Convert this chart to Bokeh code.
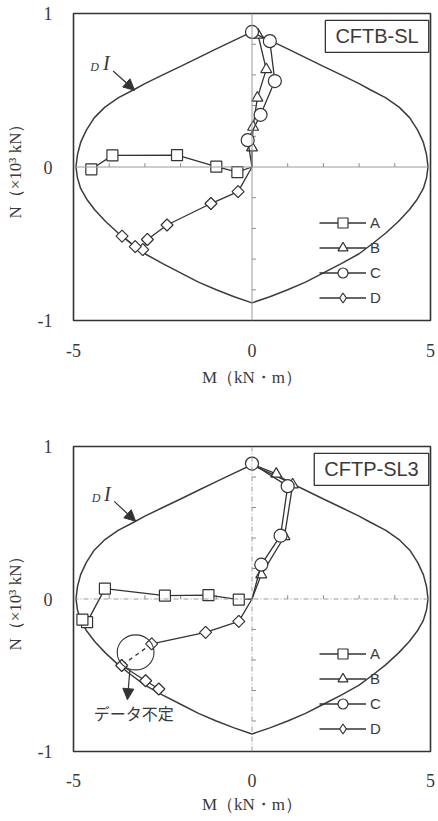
from bokeh.plotting import figure
from bokeh.layouts import column
from bokeh.models import Range1d, FixedTicker, Span, Label, Arrow, NormalHead
from bokeh.core.properties import value
from bokeh.embed import file_html
from bokeh.resources import INLINE

# ---------------- data ----------------
# interaction curve DI, left half from top (M=0, N max) down to bottom (M=0, N min)
CURVE_M_LEFT = [0.0, -0.5, -1.0, -1.5, -2.0, -2.5, -3.0, -3.3, -3.75, -4.12, -4.42, -4.64,
                -4.8, -4.89, -4.93, -4.89, -4.8, -4.63, -4.4, -4.1, -3.75, -3.4, -3.0,
                -2.5, -2.0, -1.5, -1.0, -0.5, 0.0]
CURVE_N_LEFT = [0.88, 0.825, 0.77, 0.713, 0.656, 0.6, 0.543, 0.505, 0.45, 0.39, 0.32, 0.24,
                0.16, 0.08, 0.0, -0.07, -0.14, -0.21, -0.28, -0.355, -0.43, -0.495, -0.565,
                -0.63, -0.69, -0.75, -0.8, -0.845, -0.885]

X_TICKS = [-5, 0, 5]
X_TICK_LABELS = ["-5", "0", "5"]
Y_TICKS = [-1, 0, 1]
Y_TICK_LABELS = ["-1", "0", "1"]
ZERO_X_MINOR = [-4, -3, -2, -1, 1, 2, 3, 4]
ZERO_Y_MINOR = [-0.8, -0.6, -0.4, -0.2, 0.2, 0.4, 0.6, 0.8]

SERIES = ["A", "B", "C", "D"]
MARKERS = ["square", "triangle", "circle", "square"]

# panel 1 : CFTB-SL
P1_TITLE = "CFTB-SL"
P1_A_M = [0.0, -0.41, -1.0, -2.1, -3.91, -4.5]
P1_A_N = [0.0, -0.033, 0.002, 0.078, 0.076, -0.015]
P1_B_M = [0.0, 0.0, 0.03, 0.15, 0.4, 0.17]
P1_B_N = [0.0, 0.126, 0.26, 0.45, 0.636, 0.86]
P1_C_M = [0.0, -0.12, 0.24, 0.64, 0.5, 0.0]
P1_C_N = [0.0, 0.175, 0.34, 0.56, 0.82, 0.88]
P1_D_M = [0.0, -0.39, -1.15, -2.38, -2.93, -3.06, -3.27, -3.64]
P1_D_N = [0.0, -0.16, -0.238, -0.378, -0.472, -0.538, -0.519, -0.45]

# panel 2 : CFTP-SL3
P2_TITLE = "CFTP-SL3"
P2_A_M = [0.0, -0.37, -1.22, -2.44, -4.12, -4.62, -4.75]
P2_A_N = [0.0, -0.004, 0.026, 0.022, 0.068, -0.152, -0.135]
P2_B_M = [0.0, 0.26, 0.91, 1.14, 0.68, 0.0]
P2_B_N = [0.0, 0.16, 0.41, 0.75, 0.82, 0.885]
P2_C_M = [0.0, 0.26, 0.8, 1.0, 0.0]
P2_C_N = [0.0, 0.225, 0.415, 0.74, 0.888]
P2_D_M = [0.0, -0.37, -1.3, -2.81, -3.65, -2.98, -2.61]
P2_D_N = [0.0, -0.147, -0.219, -0.294, -0.436, -0.536, -0.59]
P2_D_GAP = 3  # segment from point 3 to 4 is uncertain (dashed)

INK = "#333333"
TEXT = "#3a3a3a"
WIDTH = 437


def curve_xy():
    xs = CURVE_M_LEFT + [-m for m in reversed(CURVE_M_LEFT)]
    ys = CURVE_N_LEFT + list(reversed(CURVE_N_LEFT))
    return xs, ys


def make_panel(height, b_top, b_bottom, title, data, zero_dash, lab_standoff, ax_standoff,
               legend_y, gap=None):
    p = figure(width=WIDTH, height=height, x_range=Range1d(-5, 5), y_range=Range1d(-1, 1),
               output_backend="svg", toolbar_location=None,
               min_border_left=73, min_border_right=WIDTH - 430,
               min_border_top=b_top, min_border_bottom=b_bottom)
    p.grid.visible = False
    p.outline_line_color = INK
    p.outline_line_width = 1.6
    p.background_fill_color = "white"
    p.border_fill_color = "white"

    p.xaxis.ticker = FixedTicker(ticks=X_TICKS)
    p.xaxis.major_label_overrides = dict(zip(X_TICKS, X_TICK_LABELS))
    p.yaxis.ticker = FixedTicker(ticks=Y_TICKS)
    p.yaxis.major_label_overrides = dict(zip(Y_TICKS, Y_TICK_LABELS))
    for ax in (p.xaxis[0], p.yaxis[0]):
        ax.axis_line_color = None
        ax.major_tick_line_color = None
        ax.minor_tick_line_color = None
        ax.major_tick_out = 0
        ax.major_tick_in = 0
        ax.major_label_text_font = "Liberation Serif"
        ax.major_label_text_font_size = "18px"
        ax.major_label_text_color = TEXT
        ax.axis_label_text_font = "Liberation Serif"
        ax.axis_label_text_font_size = "17px"
        ax.axis_label_text_font_style = "normal"
        ax.axis_label_text_color = TEXT
    p.xaxis.axis_label = "M（kN・m）"
    p.yaxis.axis_label = "N（×10³ kN）"
    p.xaxis.major_label_standoff = lab_standoff
    p.xaxis.axis_label_standoff = ax_standoff
    p.yaxis.major_label_standoff = 21
    p.yaxis.axis_label_standoff = 10

    # zero lines with small ticks
    p.add_layout(Span(location=0, dimension="width", line_color="#9a9a9a", line_width=1,
                      line_dash=zero_dash))
    p.add_layout(Span(location=0, dimension="height", line_color="#9a9a9a", line_width=1,
                      line_dash=zero_dash))
    p.segment(x0=ZERO_X_MINOR, y0=[0] * len(ZERO_X_MINOR), x1=ZERO_X_MINOR,
              y1=[0.025] * len(ZERO_X_MINOR), line_color="#8a8a8a", line_width=1)
    p.segment(x0=[0] * len(ZERO_Y_MINOR), y0=ZERO_Y_MINOR, x1=[0.11] * len(ZERO_Y_MINOR),
              y1=ZERO_Y_MINOR, line_color="#8a8a8a", line_width=1)

    # interaction curve
    cx, cy = curve_xy()
    p.line(cx, cy, line_color="#3c3c3c", line_width=1.5)

    # series
    for name, marker, (xs, ys) in zip(SERIES, MARKERS, data):
        is_d = name == "D"
        size = 8.5 if is_d else (13 if marker == "circle" else 11)
        if is_d and gap is not None:
            p.line(xs[:gap + 1], ys[:gap + 1], line_color=INK, line_width=1.3,
                   legend_label=name)
            p.line(xs[gap:gap + 2], ys[gap:gap + 2], line_color=INK, line_width=1.3,
                   line_dash="4 4")
            p.line(xs[gap + 1:], ys[gap + 1:], line_color=INK, line_width=1.3)
        else:
            p.line(xs, ys, line_color=INK, line_width=1.3, legend_label=name)
        if is_d:
            # diamond symbol (used for the legend), fully covered by the rotated squares
            p.scatter(xs[1:], ys[1:], marker="diamond", size=11.5, fill_color="white",
                      line_color=INK, line_width=1.2, legend_label=name)
            p.scatter(xs[1:], ys[1:], marker=marker, size=size, angle=0.785398,
                      fill_color="white", line_color=INK, line_width=1.2)
        else:
            p.scatter(xs[1:], ys[1:], marker=marker, size=size,
                      fill_color="white", line_color=INK, line_width=1.2,
                      legend_label=name)

    lg = p.legend[0]
    lg.location = (244, legend_y)
    lg.background_fill_alpha = 0
    lg.border_line_alpha = 0
    lg.padding = 2
    lg.margin = 0
    lg.spacing = 0
    lg.glyph_width = 47
    lg.glyph_height = 25
    lg.label_height = 25
    lg.label_standoff = 4
    lg.label_text_font = "Liberation Sans"
    lg.label_text_font_size = "15px"
    lg.label_text_color = TEXT

    # title box
    p.add_layout(Label(x=4.95, y=0.955, text=title, anchor="top_right",
                       text_font="Liberation Sans", text_font_size="20px",
                       text_color=TEXT, padding=(10, 5),
                       background_fill_color="white", border_line_color=INK,
                       border_line_width=1.3))
    return p


p1 = make_panel(392, 13, 72, P1_TITLE,
                [(P1_A_M, P1_A_N), (P1_B_M, P1_B_N), (P1_C_M, P1_C_N), (P1_D_M, P1_D_N)],
                "solid", 23, 8, 8)
p2 = make_panel(428, 54, 69, P2_TITLE,
                [(P2_A_M, P2_A_N), (P2_B_M, P2_B_N), (P2_C_M, P2_C_N), (P2_D_M, P2_D_N)],
                "5 2 1 2", 22, 5, 8, gap=P2_D_GAP)

# DI annotations
for p, (dx, dy, ix, iy, ax0, ay0, ax1, ay1) in (
        (p1, (-4.41, 0.65, -4.08, 0.68, -3.89, 0.625, -3.29, 0.5)),
        (p2, (-4.37, 0.66, -4.05, 0.69, -3.86, 0.64, -3.26, 0.51))):
    p.text(x=[dx], y=[dy], text=["D"], text_font=value("Liberation Serif"),
           text_font_style="italic", text_font_size="12px", text_color=TEXT,
           text_align="center", text_baseline="middle")
    p.text(x=[ix], y=[iy], text=["I"], text_font=value("Liberation Serif"),
           text_font_style="italic", text_font_size="20px", text_color=TEXT,
           text_align="center", text_baseline="middle")
    p.add_layout(Arrow(x_start=ax0, y_start=ay0, x_end=ax1, y_end=ay1,
                       line_color=INK, line_width=1.2,
                       end=NormalHead(size=11, fill_color=INK, line_color=INK)))

# "data uncertain" note on panel 2
p2.ellipse(x=[-3.26], y=[-0.35], width=1.03, height=0.23, fill_color=None,
           line_color=INK, line_width=1.1)
p2.add_layout(Arrow(x_start=-3.42, y_start=-0.464, x_end=-3.49, y_end=-0.66,
                    line_color=INK, line_width=1.2,
                    end=NormalHead(size=11, fill_color=INK, line_color=INK)))
p2.text(x=[-3.31], y=[-0.75], text=["データ不定"], text_font=value("Noto Sans CJK JP"),
        text_font_size="16px", text_color=TEXT, text_align="center",
        text_baseline="middle")

layout = column(p1, p2, spacing=0)
open("out.html", "w").write(file_html(layout, INLINE))
